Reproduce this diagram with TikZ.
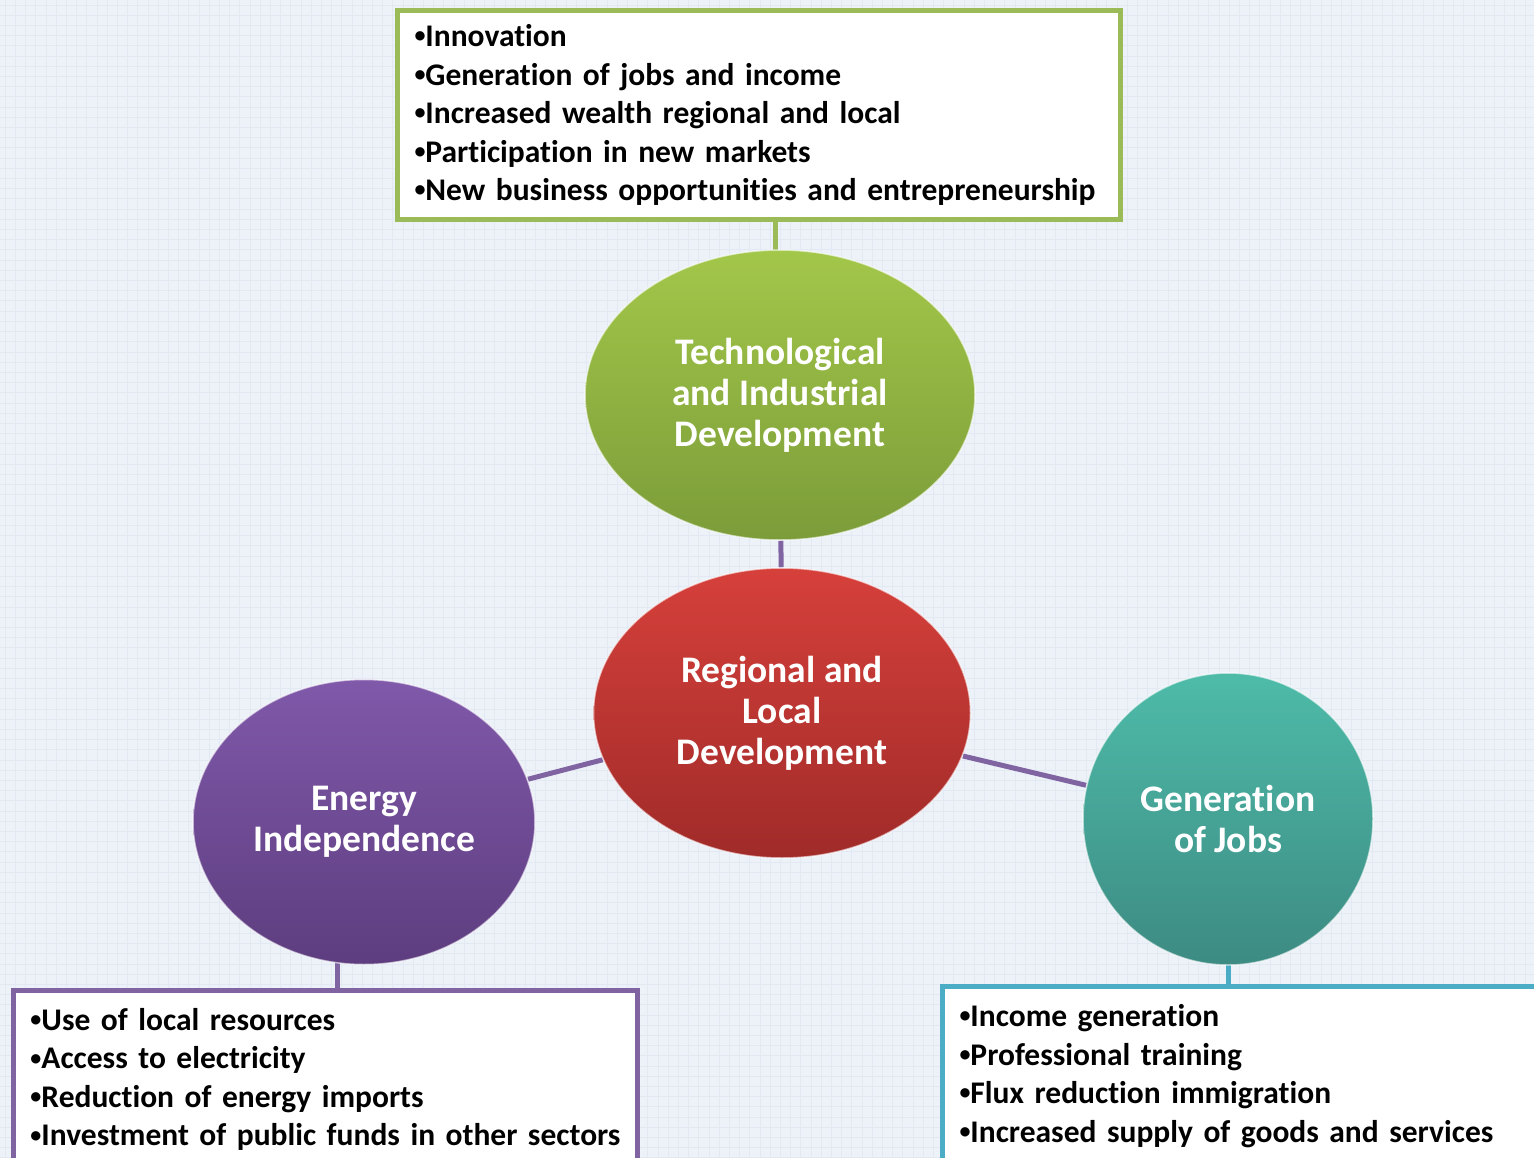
\documentclass[tikz,border=0pt]{standalone}
\usepackage{graphicx}
\usepackage{fontspec}
\setmainfont{Carlito}[Ligatures={NoCommon,NoRequired}]
\usetikzlibrary{shapes.geometric, positioning, backgrounds}

\pgfdeclarelayer{links}
\pgfsetlayers{background,links,main}

\definecolor{paper}{HTML}{EDF2F9}
\definecolor{gridline}{HTML}{E2E9F3}
\definecolor{techgreen}{HTML}{9BBB59}
\definecolor{linkpurple}{HTML}{8064A2}
\definecolor{jobsteal}{HTML}{4BACC6}
\definecolor{techtop}{HTML}{A3C74A}
\definecolor{techbottom}{HTML}{7B9C39}
\definecolor{regiontop}{HTML}{D6403B}
\definecolor{regionbottom}{HTML}{A02B29}
\definecolor{energytop}{HTML}{8059AA}
\definecolor{energybottom}{HTML}{5D3D7F}
\definecolor{jobstop}{HTML}{4EBBA9}
\definecolor{jobsbottom}{HTML}{3D8B83}

\newcommand{\listdot}{\raisebox{0.12em}{\scalebox{0.7}{\textbullet}}}

\begin{document}
\begin{tikzpicture}[
        x=1pt, y=-1pt,
        bubble/.style={ellipse, inner sep=0pt, draw=white, draw opacity=0.6, line width=1.5pt, text=white, align=center, font=\fontsize{37.5}{41}\selectfont\bfseries},
        factbox/.style={rectangle, fill=white, line width=5pt, align=left, inner xsep=17pt, font=\fontsize{31.5}{38.5}\selectfont\bfseries},
        link/.style={line width=5pt, draw=linkpurple}
    ]
    \useasboundingbox (0,0) rectangle (1534,1158);
    \clip (0,0) rectangle (1534,1158);

    % paper with fine grid
    \begin{pgfonlayer}{background}
        \fill[paper] (0,0) rectangle (1534,1158);
        \foreach \gx in {5,15.2,...,1534}
            \draw[gridline, line width=0.6pt] (\gx,0) -- (\gx,1158);
        \foreach \gy in {5,15.2,...,1158}
            \draw[gridline, line width=0.6pt] (0,\gy) -- (1534,\gy);
    \end{pgfonlayer}

    % the four bubbles
    \node[bubble, minimum width=390pt, minimum height=290pt, top color=techtop, bottom color=techbottom] (tech) at (780,395) {Technological\\and Industrial\\Development};
    \node[bubble, minimum width=377pt, minimum height=290pt, top color=regiontop, bottom color=regionbottom] (regional) at (782,713) {Regional and\\Local\\Development};
    \node[bubble, minimum width=342pt, minimum height=285pt, top color=energytop, bottom color=energybottom] (energy) at (364,822) {Energy\\Independence};
    \node[bubble, minimum width=290pt, minimum height=292pt, top color=jobstop, bottom color=jobsbottom] (jobs) at (1228,819) {Generation\\of Jobs};

    % boxes with the lists
    \node[factbox, draw=techgreen, text width=689pt, minimum height=209pt, anchor=north west] (techbox) at (395,8) {\listdot Innovation\\\listdot Generation of jobs and income\\\listdot Increased wealth regional and local\\\listdot Participation in new markets\\\listdot New business opportunities and entrepreneurship};
    \node[factbox, draw=linkpurple, text width=590pt, minimum height=178pt, anchor=north west] (energybox) at (11,988) {\listdot Use of local resources\\\listdot Access to electricity\\\listdot Reduction of energy imports\\\listdot Investment of public funds in other sectors};
    \node[factbox, draw=jobsteal, text width=600pt, minimum height=179pt, anchor=north west] (jobsbox) at (940,984) {\listdot Income generation\\\listdot Professional training\\\listdot Flux reduction immigration\\\listdot Increased supply of goods and services};

    % connectors, kept under the nodes
    \begin{pgfonlayer}{links}
        \draw[link] (tech) -- (regional);
        \draw[link] (regional) -- (energy);
        \draw[link] (regional) -- (jobs);
        \draw[link, draw=techgreen] ([xshift=-5pt]tech.center) -- ([xshift=-5pt]tech.center |- techbox.center);
        \draw[link] ([xshift=-27pt]energy.center) -- ([xshift=-27pt]energy.center |- energybox.center);
        \draw[link, draw=jobsteal] (jobs.center) -- (jobs.center |- jobsbox.center);
    \end{pgfonlayer}
\end{tikzpicture}
\end{document}
